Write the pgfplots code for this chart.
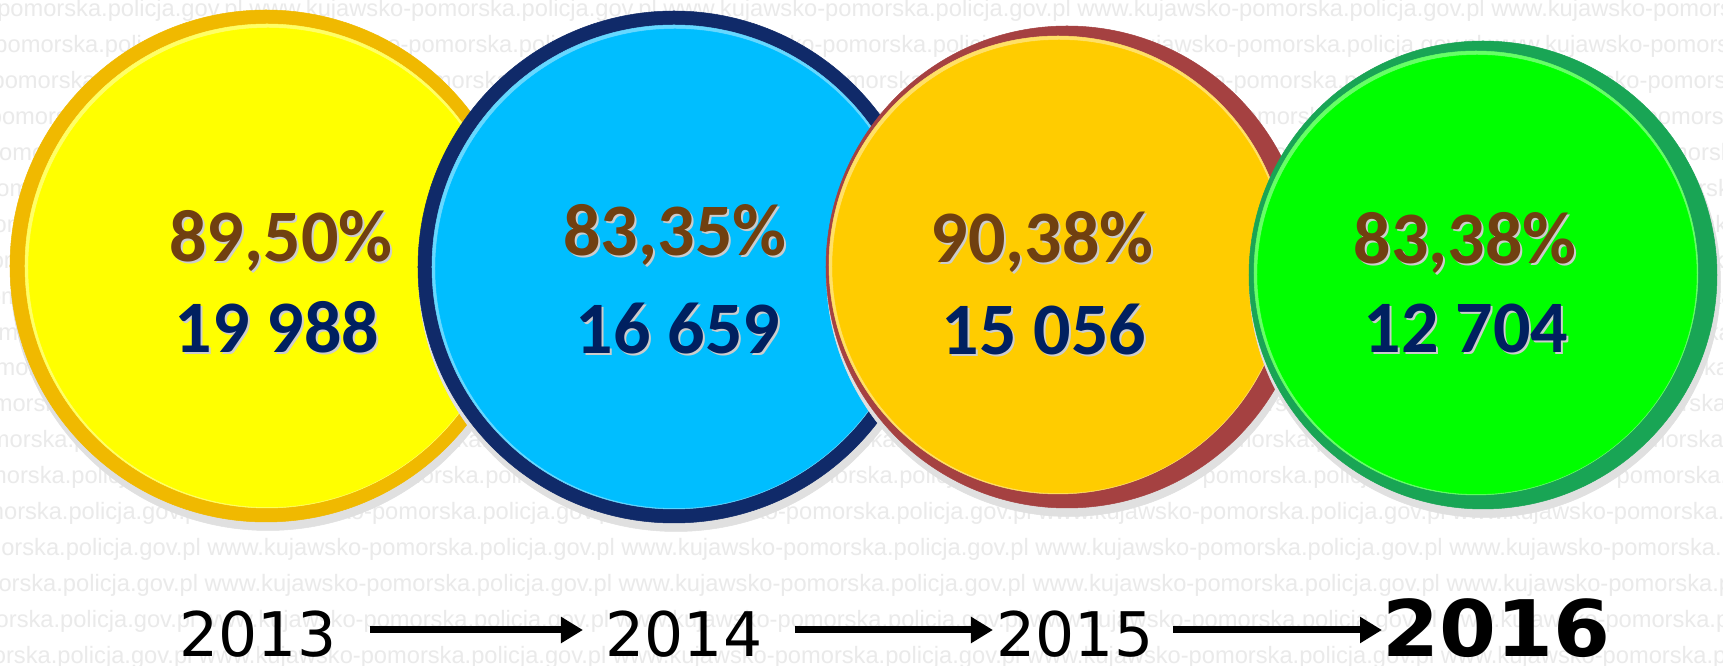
\documentclass[border=0pt]{standalone}
\usepackage{pgfplots}
\pgfplotsset{compat=1.18}
\usepackage{fontspec}
\usetikzlibrary{arrows.meta}
\newfontfamily\wmfont{Liberation Sans}
\newfontfamily\numfont{Carlito}
\newfontfamily\yrfont{DejaVu Sans}
\definecolor{brn}{RGB}{112,64,16}
\definecolor{nvy}{RGB}{0,32,96}
\definecolor{yfill}{RGB}{255,255,0}
\definecolor{yring}{RGB}{240,185,0}
\definecolor{bfill}{RGB}{0,190,255}
\definecolor{bring}{RGB}{16,42,105}
\definecolor{ofill}{RGB}{255,204,0}
\definecolor{oring}{RGB}{165,65,65}
\definecolor{gfill}{RGB}{0,255,0}
\definecolor{gring}{RGB}{25,165,85}
\definecolor{wm}{RGB}{234,234,234}
\newcommand{\wmtext}{www.kujawsko-pomorska.policja.gov.pl www.kujawsko-pomorska.policja.gov.pl www.kujawsko-pomorska.policja.gov.pl www.kujawsko-pomorska.policja.gov.pl www.kujawsko-pomorska.policja.gov.pl www.kujawsko-pomorska.policja.gov.pl www.kujawsko-pomorska.policja.gov.pl}
\tikzset{
  wmnode/.style={anchor=base west, inner sep=0pt, text=wm, font=\wmfont\fontsize{9.47pt}{10pt}\selectfont},
  pct/.style={anchor=base, inner sep=0pt, text=brn, font=\numfont\bfseries\fontsize{29.6pt}{30pt}\selectfont},
  num/.style={anchor=base, inner sep=0pt, text=nvy, font=\numfont\bfseries\fontsize{29.6pt}{30pt}\selectfont},
  shd/.style={anchor=base, inner sep=0pt, text=black!20, font=\numfont\bfseries\fontsize{29.6pt}{30pt}\selectfont},
  yr/.style={anchor=base, inner sep=0pt, text=black, font=\yrfont\fontsize{24.6pt}{25pt}\selectfont},
}
\pgfplotsset{
  arr/.style={-{Triangle[length=8.8pt,width=10pt]}, line width=2.8pt, black},
  circ/.style n args={2}{only marks, mark=*, mark size=#1, color=#2, mark options={draw=#2, fill=#2, line width=0.2pt}},
  frame/.style={x=0.4pt, y=0.4pt, xmin=0, xmax=1723, ymin=0, ymax=666,
    y dir=reverse, hide axis, clip=false, anchor=south west, at={(0,0)}},
}
\begin{document}
\begin{tikzpicture}
\fill[white] (0,0) rectangle (689.2pt,266.4pt);
\begin{axis}[frame]
% watermark rows
\node[wmnode] at (axis cs:-579,17) {\wmtext};
\node[wmnode] at (axis cs:-581.8,52.9) {\wmtext};
\node[wmnode] at (axis cs:-584.6,88.8) {\wmtext};
\node[wmnode] at (axis cs:-587.4,124.7) {\wmtext};
\node[wmnode] at (axis cs:-590.2,160.6) {\wmtext};
\node[wmnode] at (axis cs:-593,196.5) {\wmtext};
\node[wmnode] at (axis cs:-595.8,232.4) {\wmtext};
\node[wmnode] at (axis cs:-598.6,268.3) {\wmtext};
\node[wmnode] at (axis cs:-601.4,304.2) {\wmtext};
\node[wmnode] at (axis cs:-604.2,340.1) {\wmtext};
\node[wmnode] at (axis cs:-607,376) {\wmtext};
\node[wmnode] at (axis cs:-609.8,411.9) {\wmtext};
\node[wmnode] at (axis cs:-612.6,447.8) {\wmtext};
\node[wmnode] at (axis cs:-615.4,483.7) {\wmtext};
\node[wmnode] at (axis cs:-618.2,519.6) {\wmtext};
\node[wmnode] at (axis cs:-621,555.5) {\wmtext};
\node[wmnode] at (axis cs:-623.8,591.4) {\wmtext};
\node[wmnode] at (axis cs:-626.6,627.3) {\wmtext};
\node[wmnode] at (axis cs:-629.4,663.2) {\wmtext};

% 2013 circle
\addplot[circ={103pt}{black!12}] coordinates {(268,273)};
\addplot[circ={102.4pt}{yring}] coordinates {(266,266)};
\addplot[circ={96.8pt}{yfill!60!white}] coordinates {(267,266)};
\addplot[circ={95.8pt}{yfill}] coordinates {(268,267.5)};
% 2014 circle
\addplot[circ={103pt}{black!12}] coordinates {(676,274)};
\addplot[circ={102.4pt}{bring}] coordinates {(674,267)};
\addplot[circ={96.8pt}{bfill!60!white}] coordinates {(674,267)};
\addplot[circ={95.8pt}{bfill}] coordinates {(675,268.5)};
% 2015 circle
\addplot[circ={97pt}{black!12}] coordinates {(1069,274)};
\addplot[circ={96.4pt}{oring}] coordinates {(1067,267)};
\addplot[circ={91.6pt}{ofill!60!white}] coordinates {(1058,265)};
\addplot[circ={90.6pt}{ofill}] coordinates {(1059,266.5)};
% 2016 circle
\addplot[circ={94.2pt}{black!12}] coordinates {(1485,282)};
\addplot[circ={93.6pt}{gring}] coordinates {(1483,275)};
\addplot[circ={88.8pt}{gfill!60!white}] coordinates {(1476,273)};
\addplot[circ={87.8pt}{gfill}] coordinates {(1477,274.5)};

% arrows
\addplot[arr] coordinates {(370,630) (583,630)};
\addplot[arr] coordinates {(795,630) (993,630)};
\addplot[arr] coordinates {(1173,630) (1382,630)};
\end{axis}
\begin{axis}[frame]
% labels
\node[shd] at (axis cs:283,264) {89,50\%};
\node[pct] at (axis cs:281,262) {89,50\%};
\node[shd] at (axis cs:279,355) {19 988};
\node[num] at (axis cs:277,353) {19 988};
\node[shd] at (axis cs:677,258) {83,35\%};
\node[pct] at (axis cs:675,256) {83,35\%};
\node[shd] at (axis cs:680,356) {16 659};
\node[num] at (axis cs:678,354) {16 659};
\node[shd] at (axis cs:1044,265) {90,38\%};
\node[pct] at (axis cs:1042,263) {90,38\%};
\node[shd] at (axis cs:1046,357) {15 056};
\node[num] at (axis cs:1044,355) {15 056};
\node[shd] at (axis cs:1467,266) {83,38\%};
\node[pct] at (axis cs:1465,264) {83,38\%};
\node[shd] at (axis cs:1468,355) {12 704};
\node[num] at (axis cs:1466,353) {12 704};
% timeline
\node[yr] at (axis cs:258,657) {2013};
\node[yr] at (axis cs:684,657) {2014};
\node[yr] at (axis cs:1075,657) {2015};
\node[anchor=base, inner sep=0pt, xscale=1.05, font=\yrfont\bfseries\fontsize{31.2pt}{32pt}\selectfont] at (axis cs:1496,657) {2016};
\end{axis}
\pgfresetboundingbox
\path[use as bounding box] (0,0) rectangle (689.2pt,266.4pt);
\end{tikzpicture}
\end{document}
